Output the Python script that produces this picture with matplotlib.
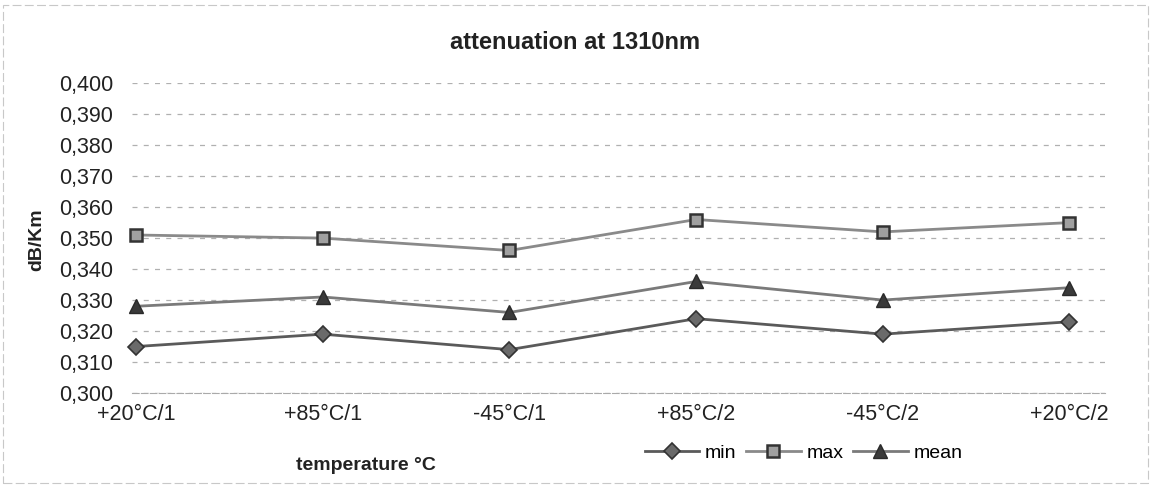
import numpy as np
import matplotlib.pyplot as plt
from matplotlib.ticker import FuncFormatter, MultipleLocator

plt.rcParams['font.family'] = ['Liberation Sans', 'DejaVu Sans']

# attenuation measured at 1310nm over the temperature cycle
stages = ['+20°C/1', '+85°C/1', '-45°C/1', '+85°C/2', '-45°C/2', '+20°C/2']
att_min = [0.315, 0.319, 0.314, 0.324, 0.319, 0.323]
att_max = [0.351, 0.350, 0.346, 0.356, 0.352, 0.355]
att_mean = [0.328, 0.331, 0.326, 0.336, 0.330, 0.334]


def main():
    fig = plt.figure(figsize=(11.51, 4.95), dpi=100)
    ax = fig.add_axes([0.115, 0.206, 0.845, 0.626])

    x = np.arange(len(stages))
    ax.plot(x, att_min, color='#5a5a5a', lw=2.0, marker='D', ms=8,
            mfc='#6a6a6a', mec='#333333', mew=1.2, label='min', clip_on=False)
    ax.plot(x, att_max, color='#8a8a8a', lw=2.0, marker='s', ms=9,
            mfc='#a0a0a0', mec='#333333', mew=1.8, label='max', clip_on=False)
    ax.plot(x, att_mean, color='#7a7a7a', lw=2.0, marker='^', ms=10,
            mfc='#3a3a3a', mec='#2a2a2a', mew=1.0, label='mean', clip_on=False)

    ax.set_xlim(-0.02, 5.19)
    ax.set_ylim(0.300, 0.400)
    ax.yaxis.set_major_locator(MultipleLocator(0.010))
    ax.yaxis.set_major_formatter(FuncFormatter(lambda v, p: f'{v:.3f}'.replace('.', ',')))
    ax.set_xticks(x)
    ax.set_xticklabels(stages)
    ax.tick_params(axis='both', length=0, labelsize=15.5, labelcolor='#222222')
    ax.tick_params(axis='x', pad=8)
    ax.tick_params(axis='y', pad=14)

    ax.yaxis.grid(True, color='#b0b0b0', lw=0.9, linestyle=(0, (4, 5)))
    for side in ['left', 'right', 'top']:
        ax.spines[side].set_visible(False)
    ax.spines['bottom'].set_color('#aaaaaa')
    ax.spines['bottom'].set_linestyle((0, (6, 2)))

    fig.text(0.5, 0.915, 'attenuation at 1310nm', ha='center', va='center',
             fontsize=17, fontweight='bold', color='#222222')
    fig.text(0.032, 0.515, 'dB/Km', ha='center', va='center', rotation=90,
             fontsize=14, fontweight='bold', color='#222222')
    fig.text(0.318, 0.06, 'temperature °C', ha='center', va='center',
             fontsize=14, fontweight='bold', color='#222222')

    ax.legend(loc='center', bbox_to_anchor=(0.69, -0.195), ncol=3, frameon=False,
              fontsize=14, handlelength=2.8, handletextpad=0.3, columnspacing=0.5)

    # page border left over from the scanned report
    fig.add_artist(plt.Rectangle((0.003, 0.025), 0.994, 0.965, transform=fig.transFigure,
                                 fill=False, ec='#c8c8c8', lw=0.8, linestyle=(0, (8, 3))))

    plt.savefig('out.png', dpi=100)


if __name__ == "__main__":
    main()
